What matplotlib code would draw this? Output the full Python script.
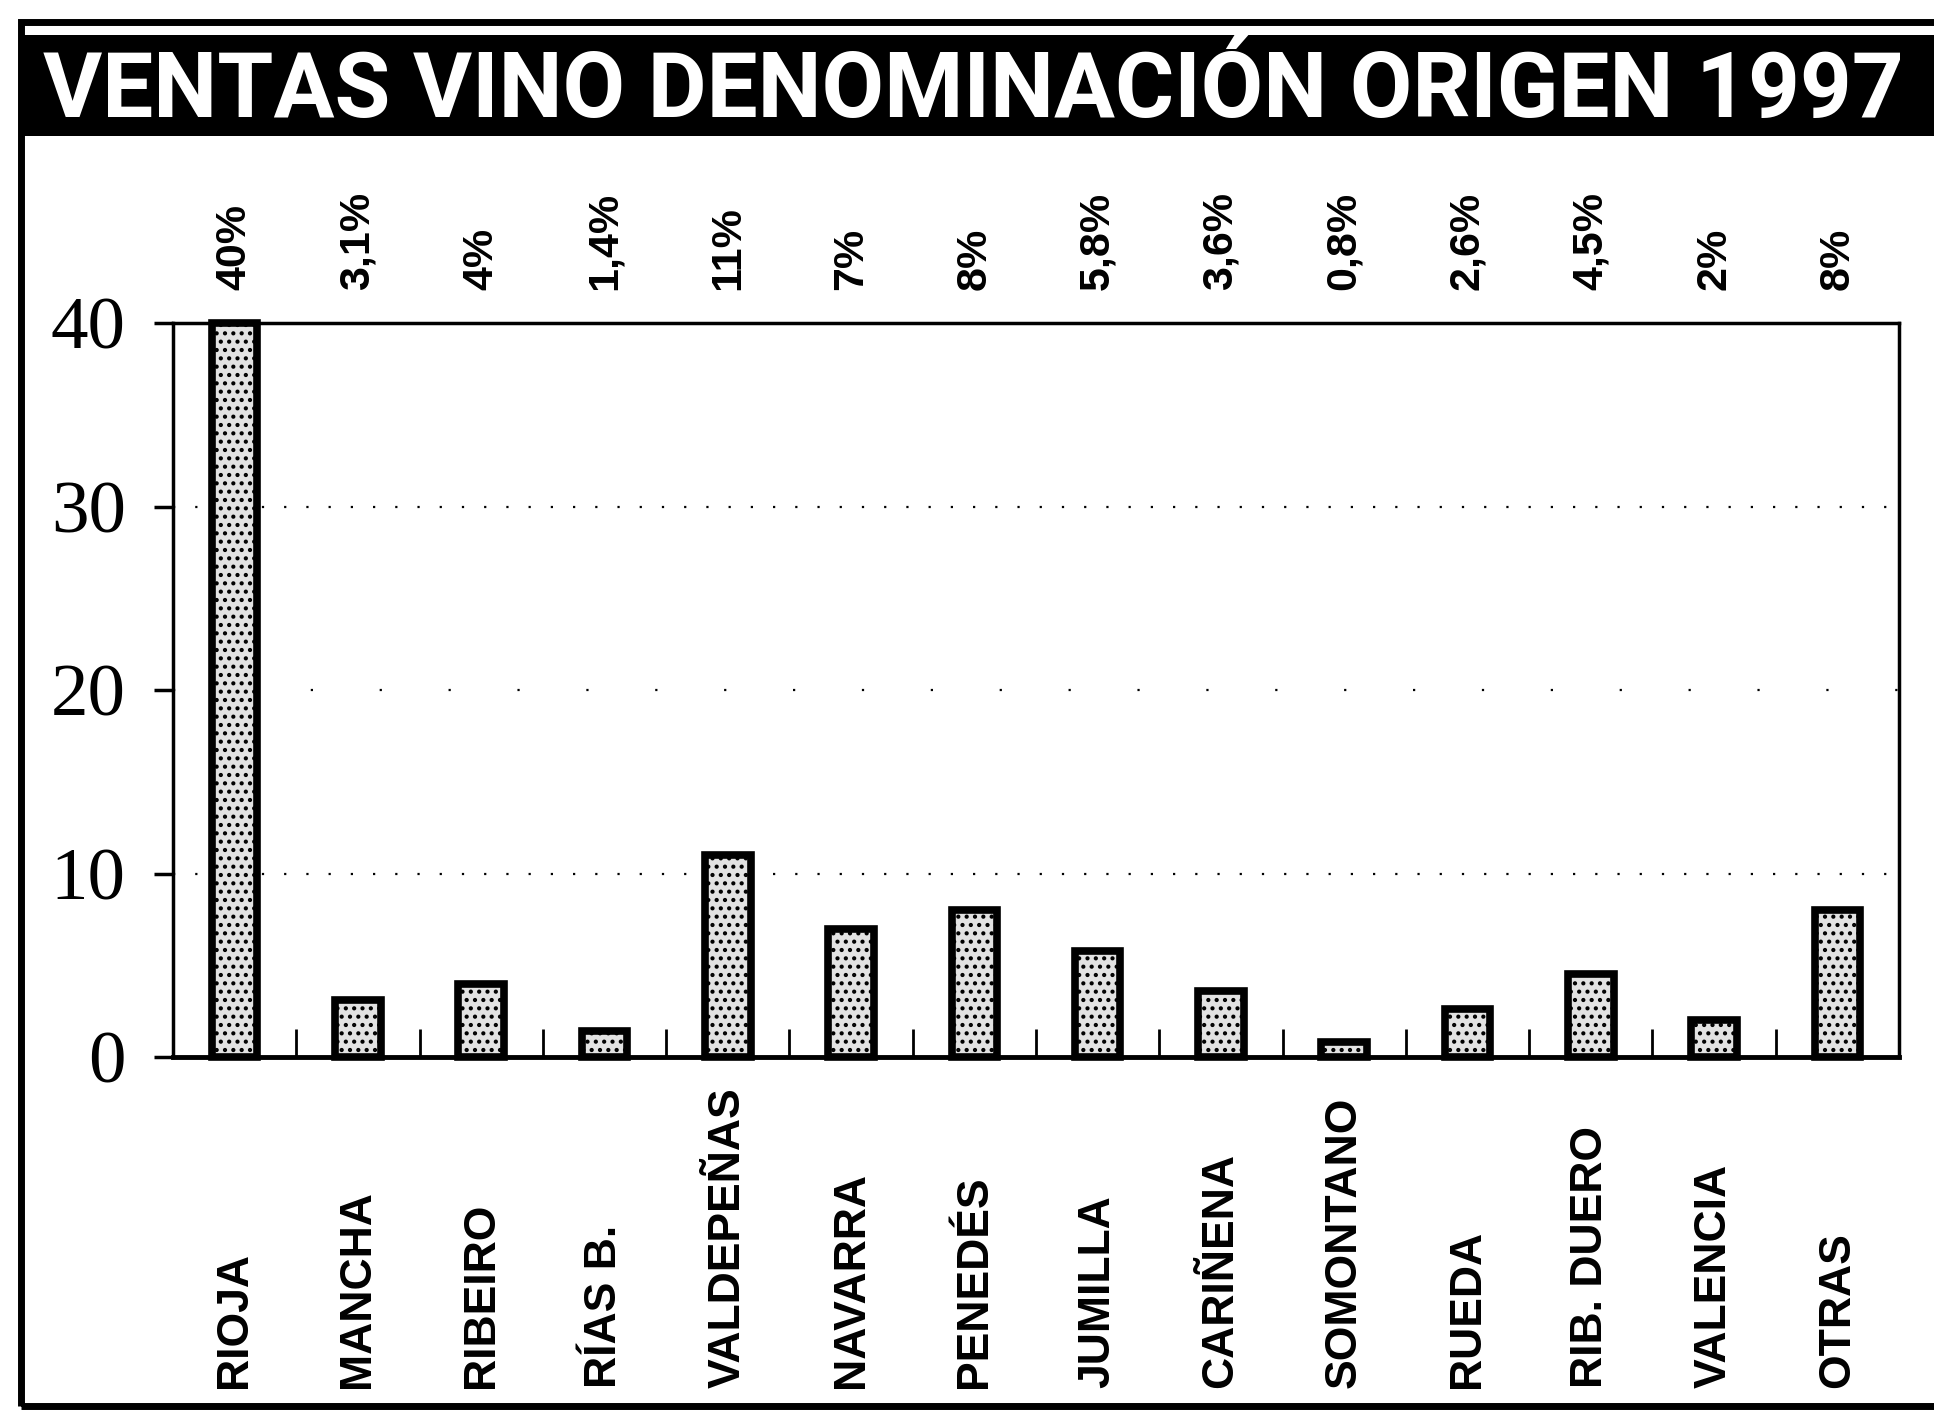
import matplotlib
matplotlib.use("Agg")
import matplotlib.pyplot as plt
from matplotlib import font_manager
from matplotlib.patches import Rectangle

categories = ["RIOJA", "MANCHA", "RIBEIRO", "RÍAS B.", "VALDEPEÑAS", "NAVARRA",
              "PENEDÉS", "JUMILLA", "CARIÑENA", "SOMONTANO", "RUEDA",
              "RIB. DUERO", "VALENCIA", "OTRAS"]
values = [40, 3.1, 4, 1.4, 11, 7, 8, 5.8, 3.6, 0.8, 2.6, 4.5, 2, 8]
pct_labels = ["40%", "3,1%", "4%", "1,4%", "11%", "7%", "8%", "5,8%", "3,6%",
              "0,8%", "2,6%", "4,5%", "2%", "8%"]
yticks = [0, 10, 20, 30, 40]
title = "VENTAS VINO DENOMINACIÓN ORIGEN 1997"


def pick(names):
    for n in names:
        try:
            font_manager.findfont(font_manager.FontProperties(family=n),
                                  fallback_to_default=False)
            return n
        except Exception:
            continue
    return "DejaVu Sans"


title_font = pick(["Roboto", "Liberation Sans"])
tick_font = pick(["Liberation Serif", "DejaVu Serif"])
sans = pick(["Liberation Sans", "DejaVu Sans"])

W, H = 1934, 1421
fig = plt.figure(figsize=(W / 100, H / 100), dpi=100)
fig.patch.set_facecolor("white")


def fx(px):
    return px / W


def fy(py):
    return 1 - py / H


# outer frame
fig.add_artist(Rectangle((fx(21), fy(1406)), fx(2000), fy(22) - fy(1406),
                         transform=fig.transFigure, fill=False,
                         edgecolor="black", linewidth=5, zorder=0))
# title bar
fig.add_artist(Rectangle((fx(21), fy(136)), fx(2000), fy(35) - fy(136),
                         transform=fig.transFigure, facecolor="black",
                         edgecolor="black", linewidth=0, zorder=1))
t = fig.text(fx(43), fy(117), title, color="white", fontsize=68,
             fontweight="bold", family=title_font, ha="left", va="baseline",
             zorder=2)

# axes
left, right, top, bottom = 173, 1899, 323, 1057
ax = fig.add_axes([fx(left), fy(bottom), fx(right - left), (bottom - top) / H])
x = list(range(len(categories)))
plt.rcParams["hatch.linewidth"] = 1.8
ax.bar(x, values, width=0.37, facecolor="#e2e2e2", edgecolor="black",
       linewidth=5.5, hatch="..", clip_on=False, zorder=3)
ax.set_xlim(-0.5, len(categories) - 0.5)
ax.set_ylim(0, 40)

for side in ["left", "right", "top"]:
    ax.spines[side].set_linewidth(2.5)
ax.spines["bottom"].set_linewidth(3.5)

ax.set_yticks(yticks)
ax.set_yticklabels([str(v) for v in yticks], family=tick_font, fontsize=54)
ax.tick_params(axis="y", direction="out", length=14, width=2.5, pad=20)
ax.set_xticks([i + 0.5 for i in x[:-1]])
ax.set_xticklabels([])
ax.tick_params(axis="x", direction="in", length=20, width=2)

for lvl, pat in [(10, (0, (1, 9))), (30, (0, (1, 9))), (20, (0, (1, 30)))]:
    ax.axhline(lvl, color="black", linewidth=1.6, linestyle=pat, zorder=1)

tr = ax.get_xaxis_transform()
for i, lab in enumerate(pct_labels):
    ax.annotate(lab, xy=(i, 1), xycoords=tr, xytext=(0, 24),
                textcoords="offset points", rotation=90, ha="center",
                va="bottom", fontsize=31, family=sans, fontweight="bold",
                annotation_clip=False)
for i, lab in enumerate(categories):
    ax.annotate(lab, xy=(i, 0), xycoords=tr, xytext=(0, -238),
                textcoords="offset points", rotation=90, ha="center",
                va="bottom", fontsize=32, family=sans, fontweight="bold",
                annotation_clip=False)

# fit title width to reference span (43 -> 1905 px)
fig.canvas.draw()
bb = t.get_window_extent()
t.set_fontsize(68 * (1905 - 43) / bb.width)

fig.savefig("out.png", dpi=100, facecolor="white")
